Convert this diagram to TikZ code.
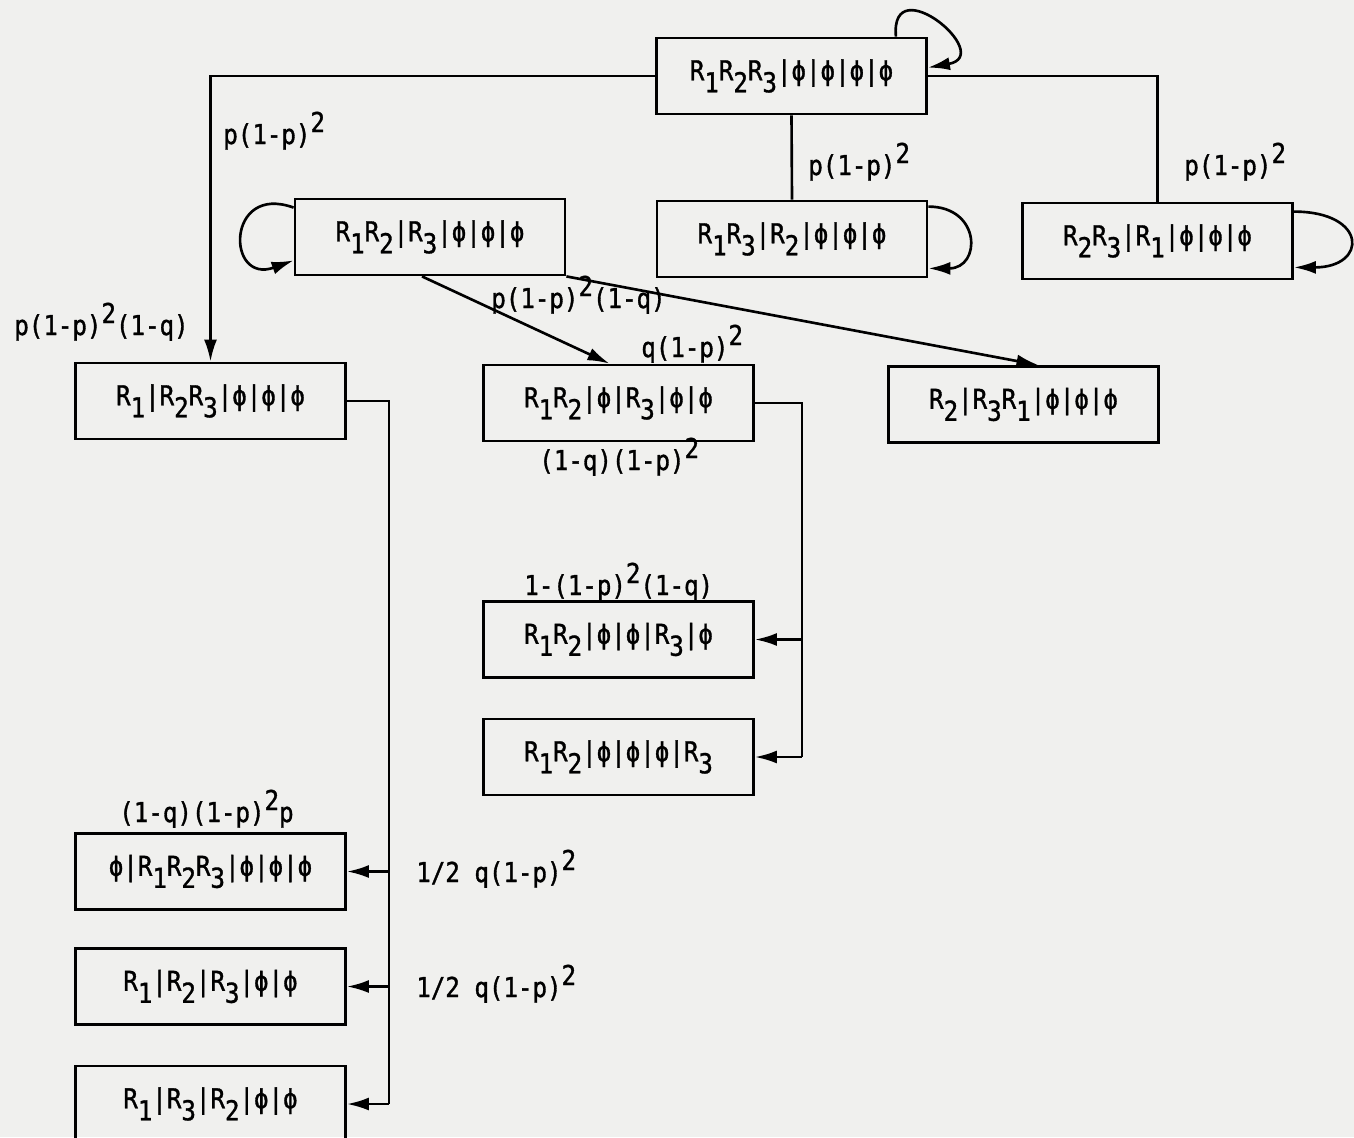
\documentclass[tikz,border=0pt]{standalone}
\usepackage{fontspec}
\setmainfont{DejaVu Sans Mono}[FakeStretch=0.88, FakeBold=1.2]
\usetikzlibrary{arrows.meta}

\definecolor{paper}{RGB}{240,240,238}
\newcommand{\sub}[1]{\raisebox{-3.4pt}{#1}}
\newcommand{\sq}{\raisebox{3.4pt}{2}}

\tikzset{
  statebox/.style={draw, line width=0.8pt, minimum width=2.7cm, minimum height=0.76cm, inner sep=0pt},
  prob/.style={anchor=base west, inner sep=0pt},
}

\begin{document}
\begin{tikzpicture}[>={Latex[length=2.2mm,width=1.3mm]}, line width=0.75pt, font=\fontsize{7.8}{9}\selectfont]
  \fill[paper] (0,0) rectangle (13.54,-11.37);
  \useasboundingbox (0,0) rectangle (13.54,-11.37);
  % states
  \node[statebox] (A) at (7.915,-0.76) {R\sub1R\sub2R\sub3|ϕ|ϕ|ϕ|ϕ};
  \node[statebox] (B) at (4.30,-2.37) {R\sub1R\sub2|R\sub3|ϕ|ϕ|ϕ};
  \node[statebox] (C) at (7.92,-2.39) {R\sub1R\sub3|R\sub2|ϕ|ϕ|ϕ};
  \node[statebox] (D) at (11.575,-2.41) {R\sub2R\sub3|R\sub1|ϕ|ϕ|ϕ};
  \node[statebox] (E) at (2.105,-4.01) {R\sub1|R\sub2R\sub3|ϕ|ϕ|ϕ};
  \node[statebox] (F) at (6.185,-4.03) {R\sub1R\sub2|ϕ|R\sub3|ϕ|ϕ};
  \node[statebox] (G) at (10.235,-4.045) {R\sub2|R\sub3R\sub1|ϕ|ϕ|ϕ};
  \node[statebox] (H) at (6.185,-6.395) {R\sub1R\sub2|ϕ|ϕ|R\sub3|ϕ};
  \node[statebox] (I) at (6.185,-7.57) {R\sub1R\sub2|ϕ|ϕ|ϕ|R\sub3};
  \node[statebox] (J) at (2.105,-8.715) {ϕ|R\sub1R\sub2R\sub3|ϕ|ϕ|ϕ};
  \node[statebox] (K) at (2.105,-9.865) {R\sub1|R\sub2|R\sub3|ϕ|ϕ};
  \node[statebox] (L) at (2.105,-11.04) {R\sub1|R\sub3|R\sub2|ϕ|ϕ};

  % self loops
  \draw[->] ([xshift=-0.32cm]A.north east) to[out=95,in=10,looseness=4] ([yshift=-0.31cm]A.north east);
  \draw[->] ([yshift=-0.1cm]B.north west) to[out=160,in=200,looseness=3.5] ([yshift=0.16cm]B.south west);
  \draw[->] ([yshift=-0.07cm]C.north east) to[out=0,in=0,looseness=2.2] ([yshift=0.1cm]C.south east);
  \draw[->] ([yshift=-0.1cm]D.north east) to[out=0,in=0,looseness=3.4] ([yshift=0.13cm]D.south east);

  % transitions
  \draw[->] (A.west) -| (E.north);
  \draw (A.south) -- (C.north);
  \draw (A.east) -| (D.north);
  \draw[->] ([xshift=-0.08cm]B.south) -- ([xshift=-0.09cm]F.north);
  \draw[->] (B.south east) -- ([xshift=0.15cm]G.north);
  \draw (F.east) -- ++(0.47,0) coordinate (fbus) -- (fbus |- I.east);
  \draw[->] (fbus |- H.east) -- (H.east);
  \draw[->] (fbus |- I.east) -- (I.east);
  \draw (E.east) -- ++(0.42,0) coordinate (ebus) -- (ebus |- L.east);
  \foreach \n in {J,K,L}
    \draw[->] (ebus |- \n.east) -- (\n.east);

  % probabilities
  \node[prob] (pAE) at (2.22,-1.44) {p(1-p)\sq};
  \node[prob] (pE) at (0.13,-3.35) {p(1-p)\sq(1-q)};
  \node[prob] (pAC) at (8.07,-1.75) {p(1-p)\sq};
  \node[prob] (pAD) at (11.83,-1.75) {p(1-p)\sq};
  \node[prob] (pBF) at (4.90,-3.08) {p(1-p)\sq(1-q)};
  \node[prob] (pFq) at (6.40,-3.57) {q(1-p)\sq};
  \node[prob] (pFs) at (5.38,-4.70) {(1-q)(1-p)\sq};
  \node[prob] (pH) at (5.23,-5.95) {1-(1-p)\sq(1-q)};
  \node[prob] (pJ) at (1.18,-8.22) {(1-q)(1-p)\sq p};
  \node[prob] (pJK) at (4.15,-8.82) {1/2 q(1-p)\sq};
  \node[prob] (pK) at (4.15,-9.97) {1/2 q(1-p)\sq};
\end{tikzpicture}
\end{document}
